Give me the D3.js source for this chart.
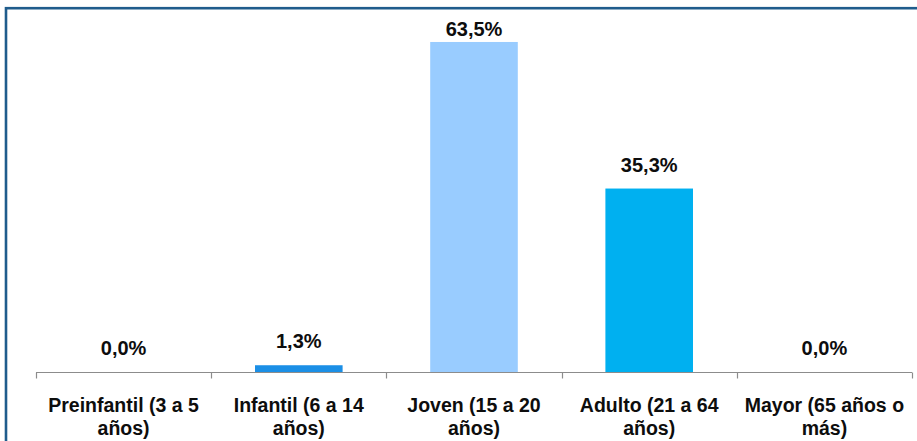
<!DOCTYPE html>
<html>
<head>
<meta charset="utf-8">
<script src="https://cdn.jsdelivr.net/npm/d3@7"></script>
<style>
  html, body { margin: 0; padding: 0; background: #fff; }
  svg { display: block; }
  text { font-family: "Liberation Sans", Arial, sans-serif; font-weight: bold; fill: #0d0d0d; }
</style>
</head>
<body>
<script>
const categories = ["Preinfantil (3 a 5 años)", "Infantil (6 a 14 años)", "Joven (15 a 20 años)", "Adulto (21 a 64 años)", "Mayor (65 años o más)"];
const categoryLines = [["Preinfantil (3 a 5", "años)"], ["Infantil (6 a 14", "años)"], ["Joven (15 a 20", "años)"], ["Adulto (21 a 64", "años)"], ["Mayor (65 años o", "más)"]];
const values = [0.0, 1.3, 63.5, 35.3, 0.0];
const valueLabels = ["0,0%", "1,3%", "63,5%", "35,3%", "0,0%"];
const barColors = ["#1b8fe6", "#1b8fe6", "#99ccff", "#00b0f0", "#1b8fe6"];

const W = 917, H = 441;
const svg = d3.select("body").append("svg").attr("width", W).attr("height", H);

// frame
svg.append("rect").attr("x", 6).attr("y", 8.2).attr("width", W + 10).attr("height", H + 10)
  .attr("fill", "none").attr("stroke", "#1f5c8c").attr("stroke-width", 2.6);

const x = d3.scaleBand().domain(categories).range([36, 912]).paddingInner(0.5).paddingOuter(0.25);
const y = d3.scaleLinear().domain([0, 70]).range([372, 8.2]);

// bars
svg.selectAll("rect.bar").data(values).enter().append("rect")
  .attr("class", "bar")
  .attr("x", (d, i) => x(categories[i]))
  .attr("width", x.bandwidth())
  .attr("y", d => y(d))
  .attr("height", d => y(0) - y(d))
  .attr("fill", (d, i) => barColors[i]);

// axis
const step = x.step();
const axisG = svg.append("g").attr("transform", "translate(0,372.5)");
axisG.append("line").attr("x1", 36).attr("x2", 912).attr("stroke", "#8c8c8c").attr("stroke-width", 1.2);
const boundaries = d3.range(categories.length + 1).map(i => 36 + i * (876 / categories.length));
axisG.selectAll("line.tick").data(boundaries).enter().append("line")
  .attr("class", "tick")
  .attr("x1", d => Math.round(d) + 0.5).attr("x2", d => Math.round(d) + 0.5)
  .attr("y1", 0).attr("y2", 6)
  .attr("stroke", "#8c8c8c").attr("stroke-width", 1.2);

// category labels
categoryLines.forEach((lines, i) => {
  const cx = x(categories[i]) + x.bandwidth() / 2;
  const t = svg.append("text").attr("text-anchor", "middle").style("font-size", "19.5px");
  lines.forEach((ln, j) => {
    t.append("tspan").attr("x", cx).attr("y", 412 + j * 23).text(ln);
  });
});

// value labels
svg.selectAll("text.val").data(values).enter().append("text")
  .attr("class", "val")
  .attr("text-anchor", "middle")
  .style("font-size", "20px")
  .attr("x", (d, i) => x(categories[i]) + x.bandwidth() / 2)
  .attr("y", d => Math.max(y(d) - 17, 36))
  .text((d, i) => valueLabels[i]);
</script>
</body>
</html>
